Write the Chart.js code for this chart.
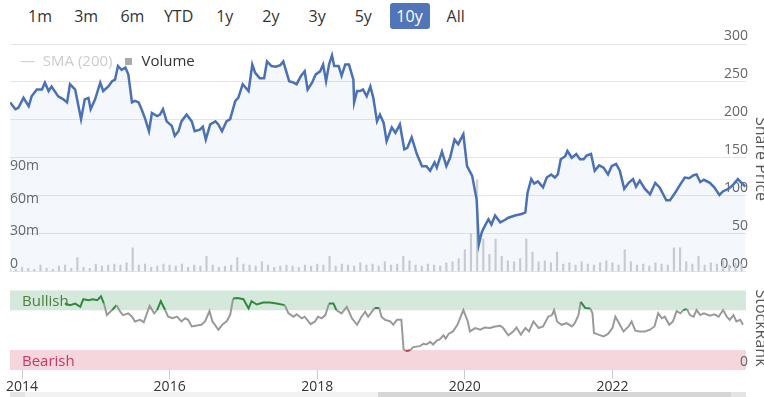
<!DOCTYPE html>
<html>
<head>
<meta charset="utf-8">
<script src="https://cdn.jsdelivr.net/npm/chart.js@4.4.0/dist/chart.umd.min.js"></script>
<style>
    body { margin: 0; width: 764px; height: 397px; position: relative; overflow: hidden; background: #fff; font-family: 'Open Sans', sans-serif; }
    .btns { position: absolute; left: 20px; top: 3px; display: flex; gap: 6.2px; }
    .btns span { width: 40px; height: 26px; line-height: 26px; text-align: center; font-size: 16px; color: #333; border-radius: 3px; }
    .btns span.on { background: #5075b9; color: #fff; }
    canvas { position: absolute; left: 0; }
    .legend { position: absolute; left: 20px; top: 50px; font-size: 15px; line-height: 20px; white-space: nowrap; }
    .legend .sma { color: #ccc; }
    .legend .sq { display: inline-block; width: 7px; height: 7px; background: #aaa; margin: 0 9px 0 13px; vertical-align: 1px; }
    .legend .vol { color: #333; }
    .axis-title { position: absolute; font-size: 16px; color: #555; white-space: nowrap; transform: translate(-50%, -50%) rotate(90deg); }
    .scroll { position: absolute; top: 392px; height: 6px; }
</style>
</head>
<body>
<div class="btns">
    <span>1m</span><span>3m</span><span>6m</span><span>YTD</span><span>1y</span><span>2y</span><span>3y</span><span>5y</span><span class="on">10y</span><span>All</span>
</div>
<canvas id="priceChart" width="764" height="282" style="top:0"></canvas>
<canvas id="rankChart" width="764" height="117" style="top:280px"></canvas>
<div class="legend"><span class="sma">— &nbsp;SMA (200)</span><span class="sq"></span><span class="vol">Volume</span></div>
<div class="axis-title" style="left:761.5px;top:159px">Share Price</div>
<div class="axis-title" style="left:761.5px;top:328px">StockRank</div>
<div class="scroll" style="left:10px;width:736px;background:#f2f2f2"></div>
<div class="scroll" style="left:10px;width:15px;background:#e4e4e4"></div>
<div class="scroll" style="left:378px;width:353px;background:#d6d6d6"></div>
<div class="scroll" style="left:731px;width:15px;background:#e4e4e4"></div>

<script>
// Periodo visivel (anos decimais)
const xMin = 2013.837;
const xMax = 2023.81;
const yearTicks = [2014, 2016, 2018, 2020, 2022];

// Cotacao (share price)
const priceYears = [
    2013.84, 2013.91, 2013.95, 2014.02, 2014.09, 2014.13, 2014.20, 2014.27, 2014.31, 2014.36,
    2014.40, 2014.49, 2014.56, 2014.61, 2014.65, 2014.72, 2014.80, 2014.85, 2014.90, 2014.93,
    2014.99, 2015.06, 2015.10, 2015.17, 2015.22, 2015.26, 2015.30, 2015.35, 2015.40, 2015.44,
    2015.49, 2015.53, 2015.58, 2015.62, 2015.67, 2015.72, 2015.76, 2015.83, 2015.87, 2015.91,
    2015.96, 2016.03, 2016.07, 2016.12, 2016.16, 2016.23, 2016.30, 2016.34, 2016.41, 2016.45,
    2016.49, 2016.55, 2016.62, 2016.66, 2016.71, 2016.77, 2016.82, 2016.89, 2016.93, 2016.99,
    2017.07, 2017.12, 2017.16, 2017.22, 2017.28, 2017.32, 2017.38, 2017.44, 2017.50, 2017.54,
    2017.62, 2017.68, 2017.72, 2017.78, 2017.83, 2017.87, 2017.93, 2017.98, 2018.04, 2018.08,
    2018.12, 2018.16, 2018.20, 2018.23, 2018.29, 2018.33, 2018.38, 2018.43, 2018.49, 2018.50,
    2018.54, 2018.58, 2018.62, 2018.67, 2018.72, 2018.76, 2018.81, 2018.85, 2018.90, 2018.94,
    2019.01, 2019.06, 2019.12, 2019.18, 2019.22, 2019.28, 2019.35, 2019.42, 2019.48, 2019.53,
    2019.59, 2019.62, 2019.69, 2019.75, 2019.80, 2019.86, 2019.91, 2019.98, 2020.03, 2020.10,
    2020.16, 2020.19, 2020.23, 2020.27, 2020.32, 2020.36, 2020.41, 2020.48, 2020.54, 2020.59,
    2020.68, 2020.77, 2020.82, 2020.85, 2020.90, 2020.94, 2020.99, 2021.06, 2021.11, 2021.17,
    2021.22, 2021.26, 2021.30, 2021.36, 2021.39, 2021.45, 2021.51, 2021.56, 2021.61, 2021.65,
    2021.71, 2021.76, 2021.82, 2021.88, 2021.94, 2021.99, 2022.05, 2022.10, 2022.16, 2022.22,
    2022.28, 2022.32, 2022.37, 2022.44, 2022.51, 2022.58, 2022.64, 2022.73, 2022.78, 2022.85,
    2022.92, 2022.98, 2023.04, 2023.10, 2023.14, 2023.19, 2023.24, 2023.32, 2023.38, 2023.45,
    2023.50, 2023.57, 2023.64, 2023.70, 2023.75, 2023.80
];
const priceValues = [
    223, 214, 216, 229, 218, 231, 240, 240, 249, 238,
    244, 231, 227, 223, 247, 240, 201, 227, 229, 214,
    227, 249, 238, 244, 251, 253, 271, 266, 269, 260,
    223, 225, 223, 214, 201, 185, 209, 205, 207, 214,
    198, 192, 179, 185, 198, 207, 198, 185, 187, 191,
    174, 194, 198, 194, 185, 198, 201, 225, 229, 247,
    238, 273, 262, 255, 255, 277, 271, 270, 272, 277,
    251, 249, 247, 258, 264, 240, 249, 260, 264, 273,
    251, 273, 285, 271, 271, 258, 273, 273, 253, 223,
    238, 238, 240, 231, 244, 229, 198, 207, 196, 172,
    190, 183, 194, 161, 163, 177, 155, 139, 139, 133,
    144, 137, 158, 139, 150, 174, 168, 181, 139, 126,
    95, 36, 52, 60, 69, 62, 74, 65, 68, 71,
    74, 76, 78, 104, 122, 116, 119, 111, 124, 128,
    124, 128, 148, 152, 159, 150, 155, 148, 148, 153,
    155, 133, 140, 137, 128, 139, 142, 133, 109, 117,
    122, 112, 120, 109, 102, 117, 111, 94, 94, 104,
    115, 124, 123, 127, 128, 118, 121, 117, 111, 101,
    106, 109, 115, 122, 117, 112
];

// Volume mensal (milhoes), a partir de nov/2013
const volStartYear = 2013;
const volStartMonth = 11;
const volumeValues = [
    3, 2,
    4, 3, 2, 6, 3, 2, 5, 6, 3, 13, 4, 3,
    7, 5, 6, 7, 6, 8, 22, 6, 7, 4, 5, 7,
    6, 5, 7, 4, 6, 5, 14, 6, 4, 5, 6, 13,
    7, 6, 5, 9, 6, 4, 5, 6, 5, 4, 6, 5,
    7, 6, 14, 5, 7, 6, 5, 8, 6, 7, 5, 9,
    6, 7, 14, 10, 6, 5, 7, 6, 5, 8, 9, 12,
    20, 35, 85, 30, 16, 30, 14, 10, 9, 12, 30, 18,
    9, 10, 8, 18, 7, 8, 6, 9, 7, 6, 8, 10,
    8, 6, 20, 9, 6, 7, 5, 8, 7, 6, 22, 22,
    9, 7, 14, 6, 8, 7, 10, 6, 8, 7
];

// StockRank
const rankYears = [
    2014.58, 2014.65, 2014.72, 2014.79, 2014.83, 2014.90, 2014.96, 2015.02, 2015.07, 2015.11,
    2015.15, 2015.22, 2015.28, 2015.33, 2015.37, 2015.44, 2015.49, 2015.53, 2015.60, 2015.65,
    2015.70, 2015.73, 2015.79, 2015.83, 2015.88, 2015.94, 2015.98, 2016.04, 2016.10, 2016.16,
    2016.21, 2016.25, 2016.30, 2016.37, 2016.43, 2016.48, 2016.54, 2016.58, 2016.63, 2016.66,
    2016.72, 2016.77, 2016.82, 2016.86, 2016.92, 2017.00, 2017.07, 2017.11, 2017.18, 2017.27,
    2017.36, 2017.45, 2017.56, 2017.61, 2017.68, 2017.72, 2017.79, 2017.83, 2017.91, 2017.97,
    2018.01, 2018.06, 2018.11, 2018.16, 2018.22, 2018.26, 2018.33, 2018.40, 2018.47, 2018.54,
    2018.60, 2018.65, 2018.69, 2018.78, 2018.84, 2018.87, 2018.92, 2018.99, 2019.03, 2019.08,
    2019.14, 2019.17, 2019.20, 2019.26, 2019.30, 2019.39, 2019.44, 2019.48, 2019.53, 2019.57,
    2019.62, 2019.66, 2019.71, 2019.74, 2019.78, 2019.84, 2019.90, 2019.98, 2020.04, 2020.07,
    2020.14, 2020.21, 2020.27, 2020.34, 2020.41, 2020.48, 2020.52, 2020.59, 2020.66, 2020.70,
    2020.76, 2020.82, 2020.87, 2020.93, 2021.00, 2021.06, 2021.13, 2021.18, 2021.21, 2021.25,
    2021.31, 2021.38, 2021.45, 2021.49, 2021.54, 2021.57, 2021.63, 2021.70, 2021.73, 2021.75,
    2021.81, 2021.88, 2021.94, 2022.00, 2022.04, 2022.09, 2022.15, 2022.22, 2022.26, 2022.31,
    2022.37, 2022.44, 2022.51, 2022.57, 2022.62, 2022.67, 2022.71, 2022.77, 2022.82, 2022.87,
    2022.92, 2022.96, 2023.01, 2023.05, 2023.10, 2023.14, 2023.19, 2023.24, 2023.32, 2023.38,
    2023.44, 2023.50, 2023.55, 2023.59, 2023.64, 2023.68, 2023.73, 2023.77
];
const rankValues = [
    83.5, 81.5, 83.5, 79.4, 89, 87.7, 89, 87.7, 92.6, 83.5,
    69, 75.3, 81.5, 73.2, 69, 71.2, 67, 61, 63, 60,
    73.2, 80.7, 71.2, 75.3, 86.4, 75.3, 67, 65, 67, 61,
    65, 63, 54.7, 56, 56.8, 61, 74, 61, 54.7, 50.6,
    57.6, 61, 69, 89.7, 90.5, 89, 77.4, 86.4, 82.3, 84.8,
    84.8, 83.5, 81.5, 71.2, 67, 70, 65, 67, 57.6, 61,
    67, 65, 69, 83.5, 83.5, 75.3, 71.2, 79.4, 65, 56.8,
    67, 73.2, 67, 78, 78, 67, 63, 61, 56.8, 63,
    63, 26, 23.8, 24.7, 28.8, 30, 33, 32, 35.4, 32,
    37, 38.3, 43.6, 39.5, 45.3, 48.5, 56.8, 75.3, 61, 48.5,
    52.7, 50.6, 53.5, 52.7, 54.7, 55.6, 52.7, 43.6, 48.5, 53.5,
    44.4, 52.7, 48.5, 61, 52.7, 54.7, 67, 69, 75.3, 61,
    56.8, 58.8, 54.7, 58.8, 69, 85.6, 78, 77.4, 71.2, 46.5,
    44.4, 42.3, 45.3, 52.7, 67, 58.8, 48.5, 54.7, 61, 49.4,
    48.5, 48.5, 50.6, 54.7, 71.2, 65, 67, 56.8, 61, 74,
    71.2, 75.3, 76.5, 69, 67, 75.3, 69, 71.2, 68.3, 70,
    67, 75.3, 67, 63, 69, 61, 63, 56.8
];
const bullishFrom = 75;
const bearishTo = 25;

// Cores
const colors = {
    price: '#4a70b5',
    priceFill: 'rgba(74, 112, 181, 0.06)',
    volume: '#d0d0d0',
    grid: '#e6e6e6',
    rank: '#9a9a9a',
    bull: '#2f8a3b',
    bear: '#d3304c',
    bullBand: '#d5e8dc',
    bearBand: '#f5d6dc',
    label: '#666',
};

Chart.defaults.font.family = "'Open Sans', sans-serif";
Chart.defaults.font.size = 14;

const zeroWidth = (scale) => { scale.width = 0; };

// Grafico de cotacao + volume
new Chart(document.getElementById('priceChart'), {
    type: 'line',
    data: {
        datasets: [{
            label: 'Share Price',
            data: priceYears.map((x, i) => ({ x: x, y: priceValues[i] })),
            borderColor: colors.price,
            backgroundColor: colors.priceFill,
            borderWidth: 2.5,
            pointRadius: 0,
            tension: 0,
            fill: 'origin',
            yAxisID: 'y',
            order: 0,
        }, {
            type: 'bar',
            label: 'Volume',
            data: volumeValues.map((v, i) => ({ x: volStartYear + (volStartMonth - 1 + i) / 12, y: v })),
            backgroundColor: colors.volume,
            barThickness: 1.5,
            yAxisID: 'yVol',
            order: 1,
        }]
    },
    options: {
        responsive: false,
        devicePixelRatio: 1,
        animation: false,
        layout: { padding: { top: 44, left: 10, right: 18, bottom: 9.5 } },
        plugins: {
            legend: { display: false },
            tooltip: { enabled: false },
        },
        scales: {
            x: {
                type: 'linear',
                min: xMin,
                max: xMax,
                offset: false,
                display: false,
            },
            y: {
                position: 'right',
                min: 0,
                max: 300,
                afterFit: zeroWidth,
                border: { display: false },
                grid: { color: colors.grid, drawTicks: false },
                ticks: {
                    stepSize: 50,
                    mirror: true,
                    padding: 2,
                    labelOffset: -8,
                    color: colors.label,
                    callback: (v) => v === 0 ? '0.00' : String(v),
                },
            },
            yVol: {
                position: 'left',
                min: 0,
                max: 210,
                afterFit: zeroWidth,
                border: { display: false },
                grid: { display: false },
                ticks: {
                    stepSize: 30,
                    mirror: true,
                    padding: 0,
                    labelOffset: -8,
                    color: colors.label,
                    callback: (v) => v === 0 ? '0' : (v <= 90 ? v + 'm' : ''),
                },
            },
        }
    }
});

// Faixas Bullish / Bearish
const bandPlugin = {
    id: 'bands',
    beforeDraw(chart) {
        const { ctx, chartArea: a, scales: { y } } = chart;
        const g1 = y.getPixelForValue(100), g2 = y.getPixelForValue(bullishFrom);
        const r1 = y.getPixelForValue(bearishTo), r2 = y.getPixelForValue(0);
        ctx.save();
        ctx.fillStyle = colors.bullBand;
        ctx.fillRect(a.left, g1, a.right - a.left, g2 - g1);
        ctx.fillStyle = colors.bearBand;
        ctx.fillRect(a.left, r1, a.right - a.left, r2 - r1);
        ctx.font = "15px 'Open Sans', sans-serif";
        ctx.textBaseline = 'middle';
        ctx.fillStyle = '#4f7d3a';
        ctx.fillText('Bullish', a.left + 12, (g1 + g2) / 2 + 1);
        ctx.fillStyle = '#c8385e';
        ctx.fillText('Bearish', a.left + 12, (r1 + r2) / 2 + 2);
        ctx.restore();
    }
};

// Grafico StockRank
new Chart(document.getElementById('rankChart'), {
    type: 'line',
    data: {
        datasets: [{
            label: 'StockRank',
            data: rankYears.map((x, i) => ({ x: x, y: rankValues[i] })),
            borderColor: colors.rank,
            borderWidth: 2,
            pointRadius: 0,
            tension: 0,
            segment: {
                borderColor: (c) => {
                    const a = c.p0.parsed.y, b = c.p1.parsed.y;
                    if (a >= bullishFrom && b >= bullishFrom) return colors.bull;
                    if (a <= bearishTo && b <= bearishTo) return colors.bear;
                    return undefined;
                }
            },
        }]
    },
    options: {
        responsive: false,
        devicePixelRatio: 1,
        animation: false,
        layout: { padding: { top: 9, left: 10, right: 18, bottom: 0 } },
        plugins: {
            legend: { display: false },
            tooltip: { enabled: false },
        },
        scales: {
            x: {
                type: 'linear',
                min: xMin,
                max: xMax,
                afterBuildTicks: (axis) => { axis.ticks = yearTicks.map(v => ({ value: v })); },
                afterFit: (scale) => { scale.height = 27; },
                border: { display: false },
                grid: { drawOnChartArea: false, color: '#ccc', tickLength: 9 },
                ticks: {
                    autoSkip: false,
                    maxRotation: 0,
                    padding: 0,
                    color: '#333',
                    callback: (v) => String(v),
                },
            },
            y: {
                position: 'right',
                min: 0,
                max: 100,
                afterFit: zeroWidth,
                border: { display: false },
                grid: { display: false },
                ticks: {
                    stepSize: 25,
                    mirror: true,
                    padding: 2,
                    labelOffset: -8,
                    color: colors.label,
                    callback: (v) => v === 0 ? '0' : '',
                },
            },
        }
    },
    plugins: [bandPlugin]
});
</script>
</body>
</html>
